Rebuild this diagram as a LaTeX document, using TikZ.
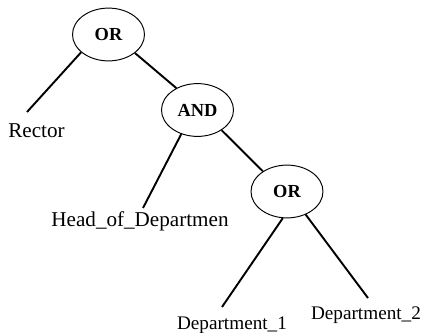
\documentclass[tikz,border=0pt]{standalone}
\usepackage{fontspec}
\setmainfont{Liberation Serif}
\usetikzlibrary{shapes.geometric,positioning}

\begin{document}
\begin{tikzpicture}[
    x=0.625pt,
    y=-0.625pt,
    gate/.style={ellipse, draw, line width=0.6pt, minimum width=45pt,
                 minimum height=33pt, inner sep=0pt,
                 font=\fontsize{11.5}{13}\selectfont\bfseries},
    leaf/.style={inner sep=0pt, font=\fontsize{12}{14}\selectfont},
    bigleaf/.style={leaf, font=\fontsize{13.2}{15}\selectfont},
    branch/.style={line width=1.2pt}]
       \useasboundingbox (0,0) rectangle (430,333);
       \node[gate] (or_top) at (108.5,34.5) {OR};
       \node[gate] (and_mid) at (197.5,110) {AND};
       \node[gate] (or_low) at (287,191.5) {OR};
       % loose ends of the branches, the names sit under them
       \coordinate (rector_end) at (27,112);
       \coordinate (head_end) at (143,208);
       \coordinate (dep1_end) at (222,307);
       \coordinate (dep2_end) at (368,298);
       \node[bigleaf] (rector) at (36.5,131) {Rector};
       \node[bigleaf] (head) at (140,221) {Head\_of\_Departmen};
       \node[leaf] (dep1) at (232,325) {Department\_1};
       \node[leaf] (dep2) at (366,315) {Department\_2};
        \path[branch]
        (or_top.213) edge (rector_end)
        (or_top.325) edge (and_mid.134)
        (and_mid.236) edge (head_end)
        (and_mid.320) edge (or_low.140)
        (or_low.261) edge (dep1_end)
        (or_low.309) edge (dep2_end)
        ;
    \end{tikzpicture}
\end{document}
